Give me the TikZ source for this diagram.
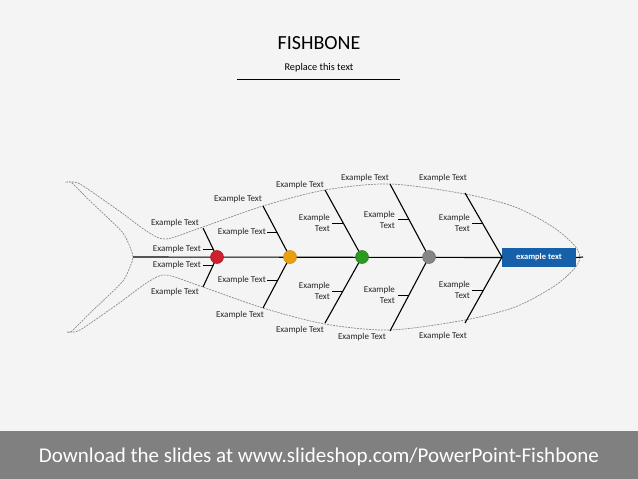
\documentclass[tikz,border=0pt]{standalone}
\usepackage{fontspec}
\setmainfont{Carlito}
\definecolor{bg}{HTML}{F4F4F4}
\definecolor{band}{HTML}{808080}
\definecolor{txt}{HTML}{262626}
\definecolor{outl}{HTML}{8C8C8C}
\definecolor{cred}{HTML}{D0202C}
\definecolor{corange}{HTML}{E8A00E}
\definecolor{cgreen}{HTML}{2C9A22}
\definecolor{cgray}{HTML}{858585}
\definecolor{hblue}{HTML}{1560A8}
\begin{document}
\begin{tikzpicture}[x=1pt,y=-1pt,
  lbl/.style={font=\fontsize{9}{10.8}\selectfont, text=txt, inner sep=0pt},
  lbltwo/.style={lbl, align=right, anchor=east},
  bone/.style={line width=1.1pt, black},
  tick/.style={line width=1pt, black},
  dot/.style={circle, minimum size=13pt, inner sep=0pt, line width=0.5pt},
  outline/.style={draw=outl, line width=0.7pt, dash pattern=on 2pt off 1pt}]
\useasboundingbox (0,0) rectangle (638,479);
\fill[bg] (0,0) rectangle (638,431);
\fill[band] (0,431) rectangle (638,479);

% title
\node[font=\fontsize{20}{22}\selectfont, text=black] (title) at (319,43) {FISHBONE};
\node[font=\fontsize{10.3}{12}\selectfont, text=black] (sub) at (319,68) {Replace this text};
\coordinate (ul) at (237,79);
\coordinate (ur) at (400,79);
\draw[line width=0.9pt] (ul) -- (ur);

% fish outline
\draw[outline] plot[smooth cycle, tension=0.5] coordinates {
 (67,182) (78,183) (95,194) (122,213) (148,232) (166,239) (200,228) (263,206) (325,190)
 (390,184) (465,194) (515,207) (553,227) (574,245) (580,257) (574,269) (553,287)
 (515,307) (465,320) (390,330) (325,324) (263,308) (200,286) (166,275) (148,282)
 (122,301) (95,320) (78,331) (67,332) (72,331) (88,315) (108,296) (123,281) (130,267)
 (133,257) (130,247) (123,233) (108,218) (88,199) (72,183)};

% spine
\coordinate (tail) at (133,257);
\coordinate (nose) at (583,257);
\node[fill=hblue, minimum width=74pt, minimum height=19pt, inner sep=0pt,
  text=white, font=\fontsize{8.5}{10}\selectfont\bfseries] (head) at (539,257.5) {example text};
\draw[bone] (tail) -- (head.west);
\draw[bone] (head.east) -- (nose);

% circle positions
\coordinate (p1) at (217,257);
\coordinate (p2) at (290,257);
\coordinate (p3) at (362,257);
\coordinate (p4) at (429,257);
\coordinate (p5) at (502,257);

% bone ends
\coordinate (u1) at (203,228); \coordinate (d1) at (203,287);
\coordinate (u2) at (263,206); \coordinate (d2) at (263,308);
\coordinate (u3) at (325,190); \coordinate (d3) at (325,323);
\coordinate (u4) at (390,184); \coordinate (d4) at (390,331);
\coordinate (u5) at (465,193); \coordinate (d5) at (465,323);
\foreach \i in {1,...,5}{
  \draw[bone] (p\i) -- (u\i);
  \draw[bone] (p\i) -- (d\i);
}

% ticks
\coordinate (a1) at (203,249); \coordinate (b1) at (213,249);
\coordinate (a2) at (203,265); \coordinate (b2) at (213,265);
\coordinate (a3) at (267,232); \coordinate (b3) at (277,232);
\coordinate (a4) at (267,280); \coordinate (b4) at (278,280);
\coordinate (a5) at (332,223); \coordinate (b5) at (343,223);
\coordinate (a6) at (332,291); \coordinate (b6) at (343,291);
\coordinate (a7) at (398,219); \coordinate (b7) at (409,219);
\coordinate (a8) at (398,295); \coordinate (b8) at (409,295);
\coordinate (a9) at (472,223); \coordinate (b9) at (482,223);
\coordinate (a10) at (472,290); \coordinate (b10) at (483,290);
\foreach \i in {1,...,10}{ \draw[tick] (a\i) -- (b\i); }

% circles
\node[dot, fill=cred, draw=cred!80!black] (c1) at (p1) {};
\node[dot, fill=corange, draw=corange!85!black] (c2) at (p2) {};
\node[dot, fill=cgreen, draw=cgreen!80!black] (c3) at (p3) {};
\node[dot, fill=cgray, draw=cgray!85!black] (c4) at (p4) {};

% end labels
\node[lbl] (lu1) at (175,223) {Example Text};
\node[lbl] (ld1) at (175,292) {Example Text};
\node[lbl] (lu2) at (238,199) {Example Text};
\node[lbl] (ld2) at (240,315) {Example Text};
\node[lbl] (lu3) at (300,185) {Example Text};
\node[lbl] (ld3) at (300,330) {Example Text};
\node[lbl] (lu4) at (365,178) {Example Text};
\node[lbl] (ld4) at (362,337) {Example Text};
\node[lbl] (lu5) at (443,178) {Example Text};
\node[lbl] (ld5) at (443,336) {Example Text};

% tick labels
\node[lbl, anchor=east] (m1) at ([xshift=-2pt]a1) {Example Text};
\node[lbl, anchor=east] (m2) at ([xshift=-2pt]a2) {Example Text};
\node[lbl, anchor=east] (m3) at ([xshift=-1pt]a3) {Example Text};
\node[lbl, anchor=east] (m4) at ([xshift=-1pt]a4) {Example Text};
\node[lbltwo] (m5) at ([xshift=-2pt]a5) {Example\\Text};
\node[lbltwo] (m6) at ([xshift=-2pt]a6) {Example\\Text};
\node[lbltwo] (m7) at ([xshift=-3pt,yshift=-1pt]a7) {Example\\Text};
\node[lbltwo] (m8) at ([xshift=-3pt]a8) {Example\\Text};
\node[lbltwo] (m9) at ([xshift=-2pt]a9) {Example\\Text};
\node[lbltwo] (m10) at ([xshift=-2pt]a10) {Example\\Text};

% footer
\node[text=white, font=\fontsize{21}{23}\selectfont] (foot) at (319,457) {Download the slides at www.slideshop.com/PowerPoint-Fishbone};
\end{tikzpicture}
\end{document}
